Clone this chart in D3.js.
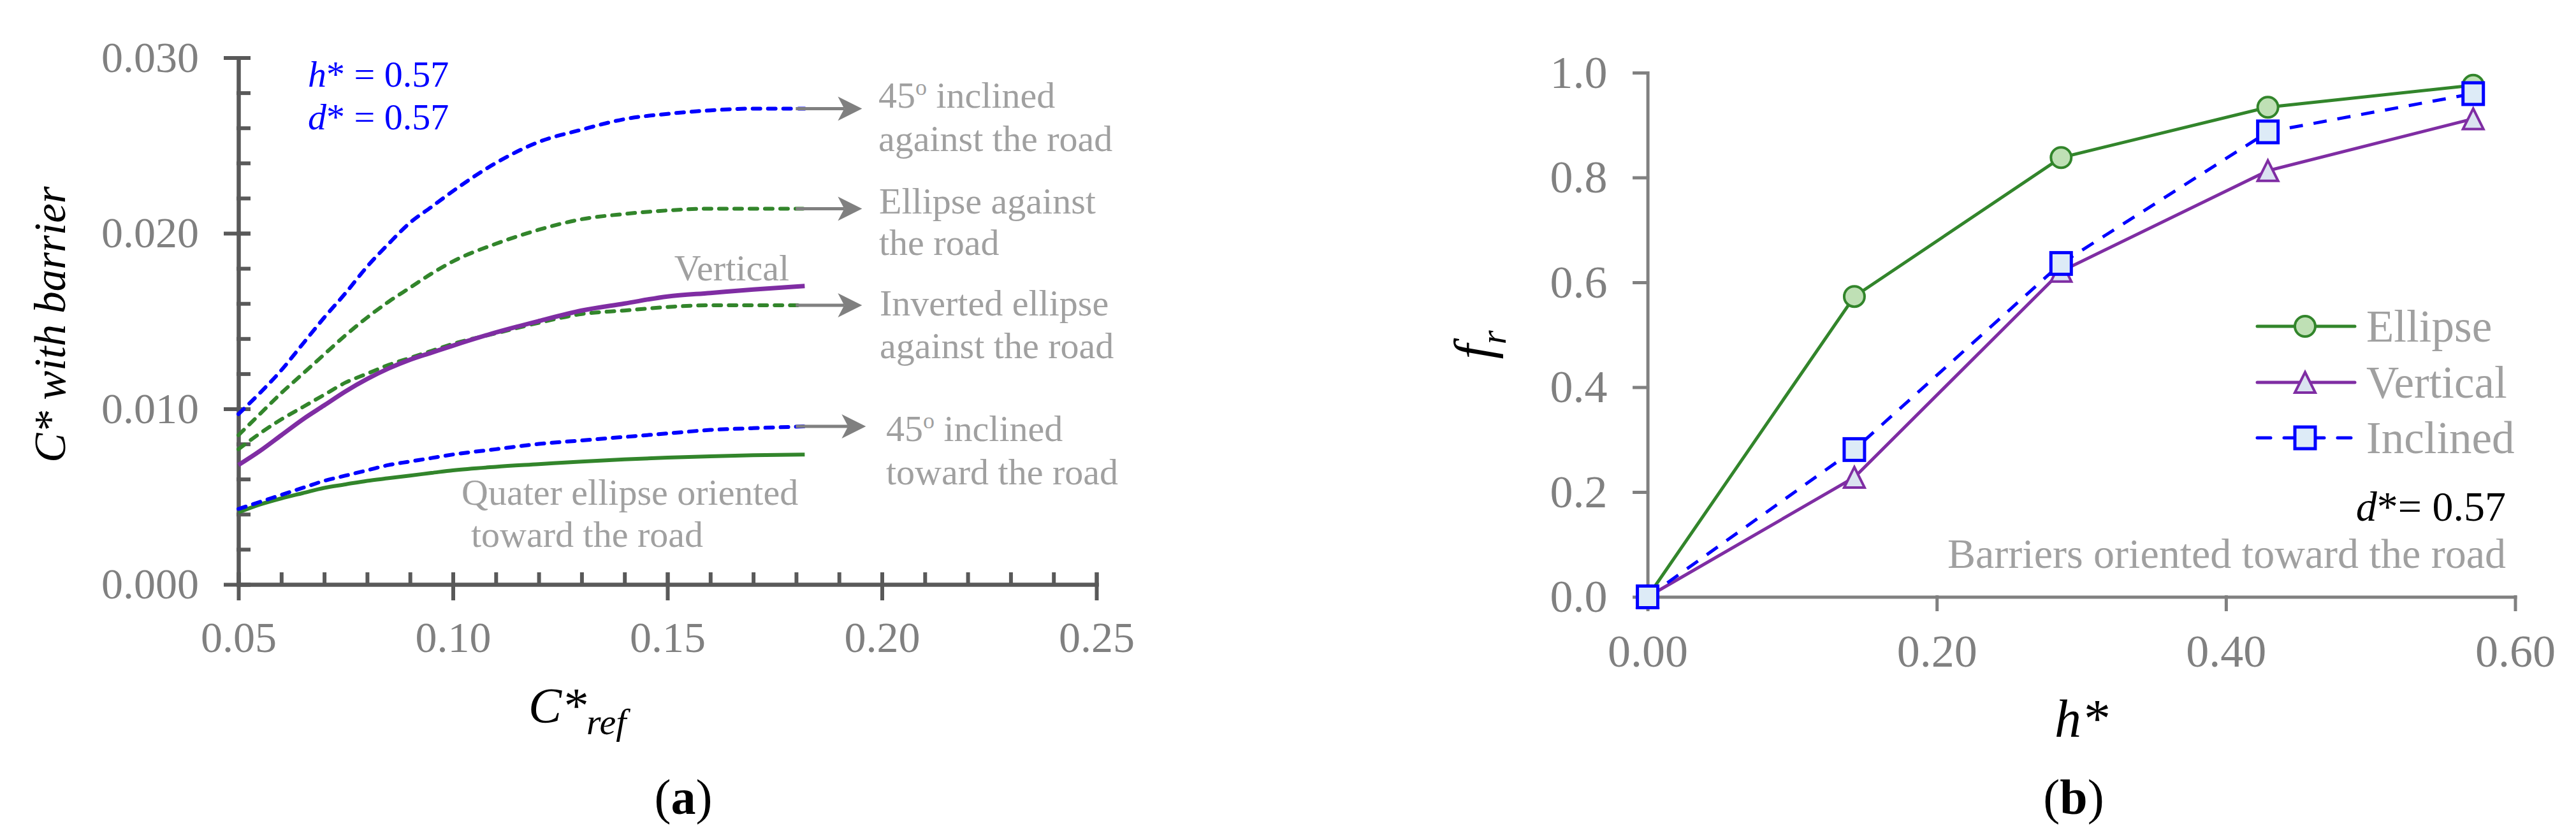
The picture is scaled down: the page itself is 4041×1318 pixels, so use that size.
<!DOCTYPE html>
<html>
<head>
<meta charset="utf-8">
<script src="https://cdn.jsdelivr.net/npm/d3@7"></script>
<style>
    body { margin: 0; background: #fff; }
    text { font-family: 'Liberation Serif', 'Times New Roman', serif; }
</style>
</head>
<body>
<svg id="chart" width="4041" height="1318"></svg>
<script>

// ---- panel (a) data: C* with barrier vs C*ref ----
const cRef = [0.050, 0.055, 0.060, 0.065, 0.070, 0.075, 0.080, 0.085, 0.090, 0.095, 0.100,
    0.110, 0.120, 0.130, 0.140, 0.150, 0.160, 0.170, 0.182]

const inclinedAgainst = [0.0097, 0.0109, 0.0122, 0.0137, 0.0152, 0.0166, 0.0181, 0.0194, 0.0206, 0.0215, 0.0224,
    0.0240, 0.0252, 0.0259, 0.0265, 0.0268, 0.0270, 0.0271, 0.0271]
const ellipseAgainst = [0.0085, 0.0097, 0.0109, 0.0120, 0.0131, 0.0142, 0.0152, 0.0161, 0.0169, 0.0177, 0.0184,
    0.0194, 0.0202, 0.0208, 0.0211, 0.0213, 0.0214, 0.0214, 0.0214]
const invertedAgainst = [0.0077, 0.0086, 0.0094, 0.0101, 0.0108, 0.0115, 0.0120, 0.0125, 0.0129, 0.0133, 0.0137,
    0.0143, 0.0149, 0.0154, 0.0156, 0.0158, 0.0159, 0.0159, 0.0159]
const verticalA = [0.0068, 0.0076, 0.0085, 0.0094, 0.0102, 0.0110, 0.0117, 0.0123, 0.0128, 0.0132, 0.0136,
    0.01435, 0.0150, 0.0156, 0.0160, 0.0164, 0.0166, 0.0168, 0.0170]
const inclinedToward = [0.0043, 0.0047, 0.0051, 0.0055, 0.0059, 0.0062, 0.0065, 0.0068, 0.0070, 0.0072, 0.0074,
    0.0077, 0.0080, 0.0082, 0.0084, 0.0086, 0.0088, 0.0089, 0.0090]
const quarterToward = [0.0041, 0.00455, 0.0049, 0.0052, 0.0055, 0.0057, 0.0059, 0.00605, 0.0062, 0.00635, 0.0065,
    0.0067, 0.00685, 0.0070, 0.00712, 0.00722, 0.0073, 0.00736, 0.0074]

const xTicksA = [0.05, 0.10, 0.15, 0.20, 0.25]
const yTicksA = [0.000, 0.010, 0.020, 0.030]

// ---- panel (b) data: fr vs h* ----
const hStar = [0, 0.143, 0.286, 0.429, 0.571]
const frEllipse = [0, 0.573, 0.838, 0.934, 0.976]
const frVertical = [0, 0.228, 0.621, 0.813, 0.912]
const frInclined = [0, 0.281, 0.636, 0.887, 0.960]
const legendNames = ['Ellipse', 'Vertical', 'Inclined']

const xTicksB = [0, 0.20, 0.40, 0.60]
const yTicksB = [0, 0.2, 0.4, 0.6, 0.8, 1.0]

const blue = '#0000ff'
const green = '#32852b'
const purple = '#7f2da3'
const noteGray = '#a0a0a0'

const svg = d3.select('#chart')
svg.append('rect').attr('width', 4041).attr('height', 1318).attr('fill', '#fff')

// =================== panel (a) ===================
const xA = d3.scaleLinear().domain([0.05, 0.25]).range([374, 1720])
const yA = d3.scaleLinear().domain([0, 0.03]).range([917, 90.5])
const axisColA = '#595959'

// minor ticks point inward
const minorX = d3.range(0, 21).map(i => 0.05 + i * 0.01)
const minorY = d3.range(0, 16).map(i => i * 0.002)

svg.append('g')
    .attr('transform', 'translate(0,917)')
    .call(d3.axisBottom(xA).tickValues(minorX).tickSize(-16).tickSizeOuter(0).tickFormat(''))
svg.append('g')
    .attr('transform', 'translate(374,0)')
    .call(d3.axisLeft(yA).tickValues(minorY).tickSize(-16).tickSizeOuter(0).tickFormat(''))

// major ticks cross the axis
const xAxisA = svg.append('g')
    .attr('transform', 'translate(0,917)')
    .call(d3.axisBottom(xA).tickValues(xTicksA).tickSize(22).tickSizeOuter(0).tickPadding(36).tickFormat(d3.format('.2f')))
xAxisA.selectAll('.tick line').attr('y1', -16)

const yAxisA = svg.append('g')
    .attr('transform', 'translate(374,0)')
    .call(d3.axisLeft(yA).tickValues(yTicksA).tickSize(20).tickSizeOuter(0).tickPadding(42).tickFormat(d3.format('.3f')))
yAxisA.selectAll('.tick line').attr('x1', 16)

svg.selectAll('g').selectAll('line, path')
    .attr('stroke', axisColA)
    .attr('stroke-width', 6)
    .attr('stroke-linecap', 'square')
svg.selectAll('g').selectAll('text')
    .attr('font-size', 68)
    .attr('fill', '#808080')
    .attr('font-family', "'Liberation Serif', 'Times New Roman', serif")

const lineA = d3.line()
    .x((d, i) => xA(cRef[i]))
    .y(d => yA(d))
    .curve(d3.curveMonotoneX)

const seriesA = [
    { values: quarterToward, color: green, dash: null, width: 6 },
    { values: inclinedToward, color: blue, dash: '12,12', width: 6 },
    { values: invertedAgainst, color: green, dash: '12,12', width: 6 },
    { values: verticalA, color: purple, dash: null, width: 7 },
    { values: ellipseAgainst, color: green, dash: '12,12', width: 6 },
    { values: inclinedAgainst, color: blue, dash: '12,12', width: 6 }
]

seriesA.forEach(s => {
    svg.append('path')
        .attr('d', lineA(s.values))
        .attr('fill', 'none')
        .attr('stroke', s.color)
        .attr('stroke-width', s.width)
        .attr('stroke-dasharray', s.dash)
        .attr('stroke-linecap', s.dash ? 'round' : 'butt')
})

// gray arrows pointing from curve ends to their labels
const lastX = cRef[cRef.length - 1]
const arrowTargets = [
    { v: inclinedAgainst, len: 90 },
    { v: ellipseAgainst, len: 90 },
    { v: invertedAgainst, len: 90 },
    { v: inclinedToward, len: 96 }
]
arrowTargets.forEach(a => {
    const x0 = xA(lastX) - 14
    const y0 = yA(a.v[a.v.length - 1])
    const tip = xA(lastX) + a.len
    svg.append('line')
        .attr('x1', x0).attr('x2', tip - 28)
        .attr('y1', y0).attr('y2', y0)
        .attr('stroke', '#808080')
        .attr('stroke-width', 5)
    svg.append('path')
        .attr('d', `M${tip},${y0} L${tip - 38},${y0 - 19} L${tip - 28},${y0} L${tip - 38},${y0 + 19} Z`)
        .attr('fill', '#808080')
})

// notes for panel (a)
const noteA = (x, y, str, anchor) => svg.append('text')
    .attr('x', x).attr('y', y)
    .attr('font-size', 58)
    .attr('fill', noteGray)
    .attr('text-anchor', anchor || 'start')
    .text(str)

const degLabel = (x, y, rest) => {
    const t = svg.append('text')
        .attr('x', x).attr('y', y)
        .attr('font-size', 58)
        .attr('fill', noteGray)
    t.append('tspan').text('45')
    t.append('tspan').attr('font-size', 36).attr('dy', -20).text('o')
    t.append('tspan').attr('dy', 20).text(rest)
}

degLabel(1378, 169, ' inclined')
noteA(1378, 237, 'against the road')
noteA(1379, 335, 'Ellipse against')
noteA(1379, 400, 'the road')
noteA(1238, 440, 'Vertical', 'end')
noteA(1380, 495, 'Inverted ellipse')
noteA(1380, 562, 'against the road')
degLabel(1390, 692, ' inclined')
noteA(1390, 760, 'toward the road')
noteA(724, 792, 'Quater ellipse oriented')
noteA(739, 858, 'toward the road')

// h*, d* note in blue
const paramNote = (y, sym) => {
    const t = svg.append('text')
        .attr('x', 483).attr('y', y)
        .attr('font-size', 58)
        .attr('fill', blue)
    t.append('tspan').attr('font-style', 'italic').text(sym)
    t.append('tspan').text('* = 0.57')
}
paramNote(136, 'h')
paramNote(203, 'd')

// axis titles (a)
svg.append('text')
    .attr('transform', 'translate(102,509) rotate(-90)')
    .attr('text-anchor', 'middle')
    .attr('font-size', 69)
    .attr('font-style', 'italic')
    .text('C* with barrier')

const xTitleA = svg.append('text')
    .attr('x', 829).attr('y', 1133)
    .attr('font-size', 78)
    .attr('font-style', 'italic')
xTitleA.append('tspan').text('C*')
xTitleA.append('tspan').attr('font-size', 58).attr('dy', 19).text('ref')

const capA = svg.append('text')
    .attr('x', 1072).attr('y', 1277)
    .attr('text-anchor', 'middle')
    .attr('font-size', 78)
capA.append('tspan').text('(')
capA.append('tspan').attr('font-weight', 'bold').text('a')
capA.append('tspan').text(')')

// =================== panel (b) ===================
const xB = d3.scaleLinear().domain([0, 0.6]).range([2584.6, 3945.5])
const yB = d3.scaleLinear().domain([0, 1]).range([936.5, 114])

const bAxes = svg.append('g')
const xAxisB = bAxes.append('g')
    .attr('transform', 'translate(0,936.5)')
    .call(d3.axisBottom(xB).tickValues(xTicksB).tickSize(20).tickSizeOuter(0).tickPadding(38).tickFormat(d3.format('.2f')))
const yAxisB = bAxes.append('g')
    .attr('transform', 'translate(2584.6,0)')
    .call(d3.axisLeft(yB).tickValues(yTicksB).tickSize(21).tickSizeOuter(0).tickPadding(42).tickFormat(d3.format('.1f')))

bAxes.selectAll('line, path')
    .attr('stroke', '#808080')
    .attr('stroke-width', 5)
    .attr('stroke-linecap', 'square')
bAxes.selectAll('text')
    .attr('font-size', 72)
    .attr('fill', '#808080')
    .attr('font-family', "'Liberation Serif', 'Times New Roman', serif")

const lineB = d3.line()
    .x((d, i) => xB(hStar[i]))
    .y(d => yB(d))

const circleMark = (g, x, y) => g.append('circle')
    .attr('cx', x).attr('cy', y).attr('r', 16)
    .attr('fill', '#bfe0b5').attr('stroke', green).attr('stroke-width', 4)
const triMark = (g, x, y) => g.append('path')
    .attr('d', `M${x},${y - 16} L${x + 16},${y + 16} L${x - 16},${y + 16} Z`)
    .attr('fill', '#dbe3f1').attr('stroke', purple).attr('stroke-width', 4).attr('stroke-linejoin', 'miter')
const squareMark = (g, x, y) => g.append('rect')
    .attr('x', x - 16).attr('y', y - 17).attr('width', 32).attr('height', 34)
    .attr('fill', '#ddebf7').attr('stroke', blue).attr('stroke-width', 5)

const seriesB = [
    { values: frEllipse, color: green, dash: null, mark: circleMark },
    { values: frVertical, color: purple, dash: null, mark: triMark },
    { values: frInclined, color: blue, dash: '21,17', mark: squareMark }
]

seriesB.forEach(s => {
    const g = svg.append('g')
    g.append('path')
        .attr('d', lineB(s.values))
        .attr('fill', 'none')
        .attr('stroke', s.color)
        .attr('stroke-width', 5)
        .attr('stroke-dasharray', s.dash)
    s.values.forEach((v, i) => s.mark(g, xB(hStar[i]), yB(v)))
})

// legend
const legendY = [512, 600, 687]
seriesB.forEach((s, i) => {
    const g = svg.append('g')
    g.append('line')
        .attr('x1', 3541).attr('x2', 3694)
        .attr('y1', legendY[i]).attr('y2', legendY[i])
        .attr('stroke', s.color)
        .attr('stroke-width', 5)
        .attr('stroke-dasharray', s.dash ? '21,21' : null)
        .attr('stroke-linecap', 'round')
    s.mark(g, 3616, legendY[i])
    g.append('text')
        .attr('x', 3712).attr('y', legendY[i] + 24)
        .attr('font-size', 71)
        .attr('fill', noteGray)
        .text(legendNames[i])
})

// d* note and caption text
const dNote = svg.append('text')
    .attr('x', 3931).attr('y', 817)
    .attr('text-anchor', 'end')
    .attr('font-size', 66)
dNote.append('tspan').attr('font-style', 'italic').text('d')
dNote.append('tspan').text('*= 0.57')

svg.append('text')
    .attr('x', 3931).attr('y', 891)
    .attr('text-anchor', 'end')
    .attr('font-size', 66)
    .attr('fill', noteGray)
    .text('Barriers oriented toward the road')

// axis titles (b)
svg.append('text')
    .attr('x', 3265).attr('y', 1156)
    .attr('text-anchor', 'middle')
    .attr('font-size', 84)
    .attr('font-style', 'italic')
    .text('h*')

const yTitleB = svg.append('text')
    .attr('transform', 'translate(2340,541) rotate(-90)')
    .attr('text-anchor', 'middle')
    .attr('font-size', 84)
    .attr('font-style', 'italic')
yTitleB.append('tspan').text('f')
yTitleB.append('tspan').attr('font-size', 56).attr('dy', 22).text('r')

const capB = svg.append('text')
    .attr('x', 3253).attr('y', 1277)
    .attr('text-anchor', 'middle')
    .attr('font-size', 78)
capB.append('tspan').text('(')
capB.append('tspan').attr('font-weight', 'bold').text('b')
capB.append('tspan').text(')')

</script>
</body>
</html>
